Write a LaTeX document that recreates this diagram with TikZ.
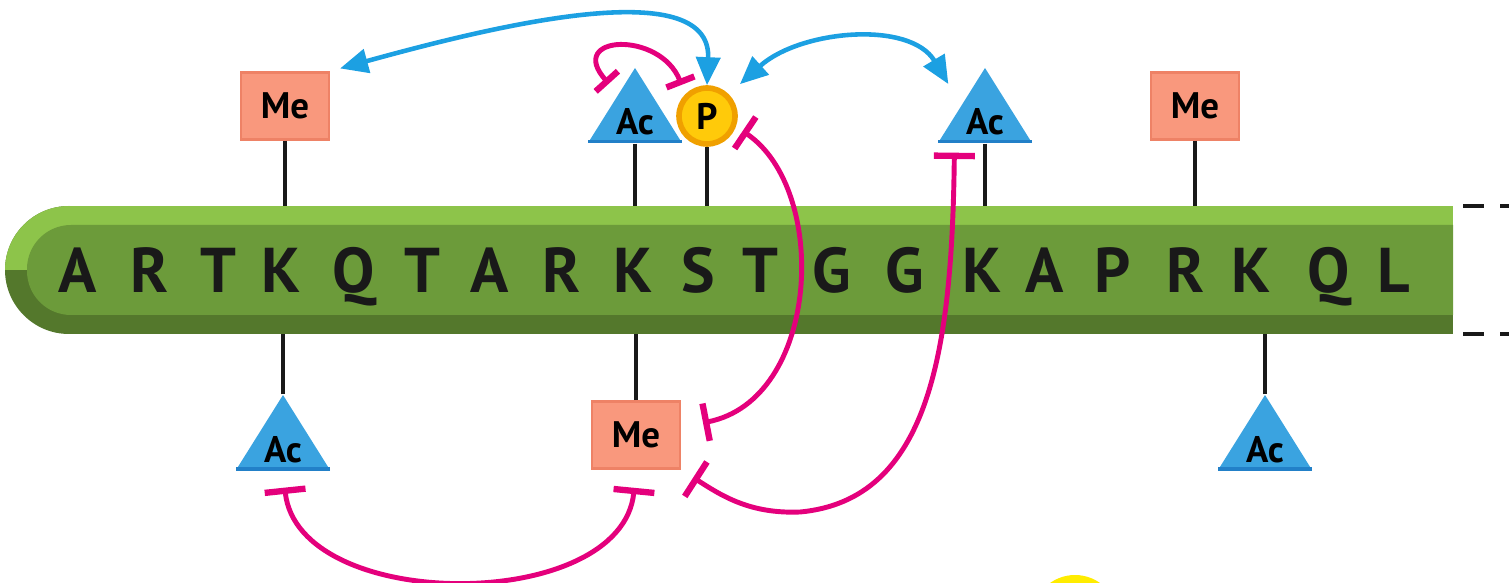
\documentclass[tikz,border=0pt]{standalone}
\usepackage{fontspec}
\setmainfont{PT Sans}
\usetikzlibrary{arrows.meta, calc}

\definecolor{barlight}{RGB}{141,196,74}
\definecolor{barmain}{RGB}{108,155,58}
\definecolor{bardark}{RGB}{84,120,44}
\definecolor{mefill}{RGB}{249,152,125}
\definecolor{meedge}{RGB}{238,130,102}
\definecolor{acblue}{RGB}{58,163,224}
\definecolor{acdark}{RGB}{34,128,200}
\definecolor{pyellow}{RGB}{255,202,10}
\definecolor{pedge}{RGB}{240,160,0}
\definecolor{actblue}{RGB}{28,160,226}
\definecolor{inhmag}{RGB}{228,0,124}
\definecolor{nextyellow}{RGB}{255,236,0}

\newcommand{\modfont}{\fontsize{10.5}{12}\selectfont\bfseries}

\tikzset{
  residue/.style={inner sep=0pt, text height=4.5mm, text depth=0pt,
    font=\fontsize{18}{20}\selectfont\bfseries, text=black!90},
  mebox/.style={rectangle, fill=mefill, draw=meedge, line width=0.8pt,
    inner sep=0pt, minimum width=8.8mm, minimum height=6.7mm, font=\modfont},
  acmark/.style={rectangle, inner sep=0pt, minimum width=9.4mm,
    minimum height=7.5mm, text height=5.9mm, text depth=0pt, font=\modfont,
    path picture={
      \fill[acblue] (path picture bounding box.south west)
        -- (path picture bounding box.south east)
        -- (path picture bounding box.north) -- cycle;
      \draw[acdark, line width=1.6pt] (path picture bounding box.south west)
        -- (path picture bounding box.south east);
    }},
  pball/.style={circle, fill=pyellow, draw=pedge, line width=1.6pt,
    inner sep=0pt, minimum size=5.6mm, font=\modfont},
  stem/.style={draw=black!90, line width=1.2pt},
  activate/.style={draw=actblue, line width=1.3pt,
    arrows={Triangle[length=2.8mm,width=2.4mm]-Triangle[length=2.8mm,width=2.4mm]}},
  inhibit/.style={draw=inhmag, line width=1.4pt,
    arrows={Bar[width=#1,line width=1.8pt]-Bar[width=#1,line width=1.8pt]}},
  inhibit/.default=4.1mm,
  cutline/.style={draw=black!90, line width=1.3pt, dash pattern=on 2.1mm off 1.6mm}
}

\begin{document}
\begin{tikzpicture}[x=0.1mm, y=-0.1mm]
\useasboundingbox (0,0) rectangle (1509,583);
\clip (0,0) rectangle (1509,583);

% ===== histone tail =====
\fill[bardark] (69,206) rectangle (1453,334);
\fill[bardark] (69,270) circle (6.4mm);
\begin{scope}
  \clip (0,206) rectangle (1509,270);
  \fill[barlight] (69,206) rectangle (1453,270);
  \fill[barlight] (69,270) circle (6.4mm);
\end{scope}
\fill[barmain, rounded corners=4.4mm] (1453,225) -- (27,225) -- (27,315) -- (1453,315);
\coordinate (bartop) at (0,206);
\coordinate (barbot) at (0,334);

\foreach \x/\c [count=\i] in {78/A,150/R,218/T,281/K,354/Q,422/T,490/A,562/R,
    633/K,698/S,760/T,832/G,905/G,982/K,1045/A,1113/P,1186/R,1251/K,1329/Q,1394/L}
  \node[residue] (r\i) at (\x,270) {\c};

% cut ends
\draw[cutline] (1463,206) -- (1509,206);
\draw[cutline] (1463,334) -- (1509,334);

% ===== modifications above =====
\node[mebox] (me1) at (285,106) {Me};
\node[acmark] (ac1) at (635,105.5) {Ac};
\node[pball] (p1) at (707,116) {P};
\node[acmark] (ac2) at (985,105.5) {Ac};
\node[mebox] (me2) at (1195,106) {Me};

% ===== modifications below =====
\node[acmark] (ac3) at (283,432.5) {Ac};
\node[mebox] (me3) at (636,435) {Me};
\node[acmark] (ac4) at (1265,432.5) {Ac};

\foreach \m in {me1,ac1,p1,ac2,me2}
  \draw[stem] (\m) -- (\m |- bartop);
\foreach \m in {ac3,me3,ac4}
  \draw[stem] (\m) -- (\m |- barbot);

% ===== cross-talk =====
\draw[activate, shorten <=1mm] (me1.north east)
  .. controls (480,30) and (712,-30) .. (p1.north);
\draw[activate, shorten <=1.5mm, shorten >=2.5mm] (p1.north east)
  .. controls (800,30) and (910,20) .. ($(ac2.north)!.5!(ac2.south west)$);

\draw[inhibit=3mm, shorten <=1.4mm, shorten >=1mm] ($(ac1.north)!.35!(ac1.south west)$)
  .. controls (565,35) and (660,30) .. (p1.north west);
\draw[inhibit=3.8mm, shorten <=0.8mm, shorten >=2.2mm] (p1.-20)
  .. controls (830,190) and (820,400) .. (me3.10);
\draw[inhibit, shorten <=0.9mm, shorten >=1.4mm] ($(ac2.south west)!.18!(ac2.south east)$)
  .. controls (952,350) and (930,500) .. (800,512)
  .. controls (750,514) and (722,496) .. (me3.south east);
\draw[inhibit, shorten <=1.7mm, shorten >=1.8mm] (ac3.south)
  .. controls (298,614) and (622,614) .. (me3.south);

% next panel, cut off
\fill[nextyellow] (1075,618) circle (4.3mm);

\end{tikzpicture}
\end{document}
